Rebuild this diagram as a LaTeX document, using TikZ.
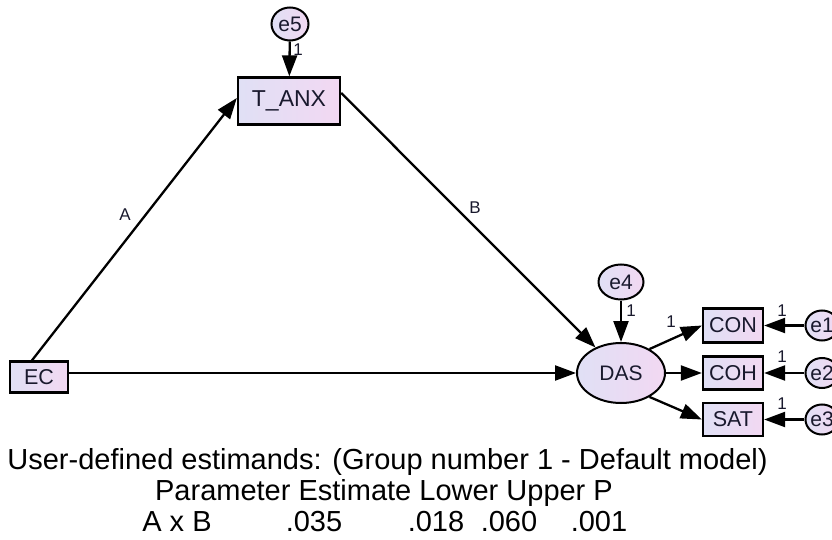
\documentclass[tikz,border=0pt]{standalone}
\usepackage{fontspec}
\setmainfont{Liberation Sans}
\usetikzlibrary{arrows.meta,calc,shapes.geometric}
\definecolor{fillL}{RGB}{224,224,245}
\definecolor{fillR}{RGB}{242,216,242}
\definecolor{txt}{RGB}{25,25,45}
\begin{document}
\begin{tikzpicture}[x=1pt,y=-1pt,
  obs/.style={draw=black,line width=2.3pt,rectangle,inner sep=0pt,left color=fillL,right color=fillR,font=\fontsize{21.5}{23}\selectfont,text=txt},
  err/.style={draw=black,line width=2pt,ellipse,inner sep=0pt,left color=fillL,right color=fillR,font=\fontsize{21}{23}\selectfont,text=txt},
  arr/.style={line width=2.3pt,-{Triangle[length=21pt,width=15pt]}},
  lab/.style={font=\fontsize{17}{19}\selectfont,text=txt,inner sep=0pt},
  bot/.style={anchor=base,inner sep=0pt,text=black,font=\fontsize{29}{30}\selectfont}]
\useasboundingbox (0,0) rectangle (832,540);
% nodes
\node[err,minimum width=37pt,minimum height=33pt] (e5) at (290,24) {e5};
\node[obs,minimum width=102pt,minimum height=47pt,font=\fontsize{23}{25}\selectfont] (TANX) at (289,101) {T\_ANX};
\node[obs,minimum width=58pt,minimum height=31pt] (EC) at (39,377) {EC};
\node[err,minimum width=88pt,minimum height=60pt] (DAS) at (621,373) {DAS};
\node[err,minimum width=45pt,minimum height=35pt] (e4) at (621,282) {e4};
\node[obs,minimum width=60pt,minimum height=34pt] (CON) at (733,325.5) {CON};
\node[obs,minimum width=60pt,minimum height=33pt] (COH) at (733,373) {COH};
\node[obs,minimum width=60pt,minimum height=33pt] (SAT) at (733,419.5) {SAT};
\node[err,minimum width=30pt,minimum height=30pt] (e1) at (822,325.5) {e1};
\node[err,minimum width=30pt,minimum height=30pt] (e2) at (822,373) {e2};
\node[err,minimum width=30pt,minimum height=30pt] (e3) at (822,419.5) {e3};
% connectors
\draw[arr] (e5) -- (TANX);
\draw[arr] ([xshift=-7pt]EC.north) -- ([yshift=3pt]TANX.west);
\draw[arr] ([yshift=8pt]TANX.east) -- (DAS.135);
\draw[arr] (EC.east |- DAS.west) -- (DAS.west);
\draw[arr] (e4) -- (DAS);
\draw[arr] (DAS.40) -- (CON.west);
\draw[arr] (DAS.east) -- (COH.west);
\draw[arr] (DAS.-40) -- (SAT.west);
\draw[arr] (e1) -- (CON);
\draw[arr] (e2) -- (COH);
\draw[arr] (e3) -- (SAT);
% labels
\node[lab] (lA) at (125,215) {A};
\node[lab] (lB) at (475,208) {B};
\node[lab] (l5) at (298,50) {1};
\node[lab] (l4) at (631,311) {1};
\node[lab] (lc) at (671,322) {1};
\node[lab] (l1) at (782,311) {1};
\node[lab] (l2) at (782,357) {1};
\node[lab] (l3) at (782,404) {1};
% bottom text
\node[bot] (t1) at (387.5,469) {User-defined estimands: (Group number 1 - Default model)};
\node[bot] (t2) at (384,500) {Parameter Estimate Lower Upper P};
\node[bot] (t3a) at (177,531) {A x B};
\node[bot] (t3b) at (314,531) {.035};
\node[bot] (t3c) at (436,531) {.018};
\node[bot] (t3d) at (509,531) {.060};
\node[bot] (t3e) at (599,531) {.001};
\end{tikzpicture}
\end{document}
